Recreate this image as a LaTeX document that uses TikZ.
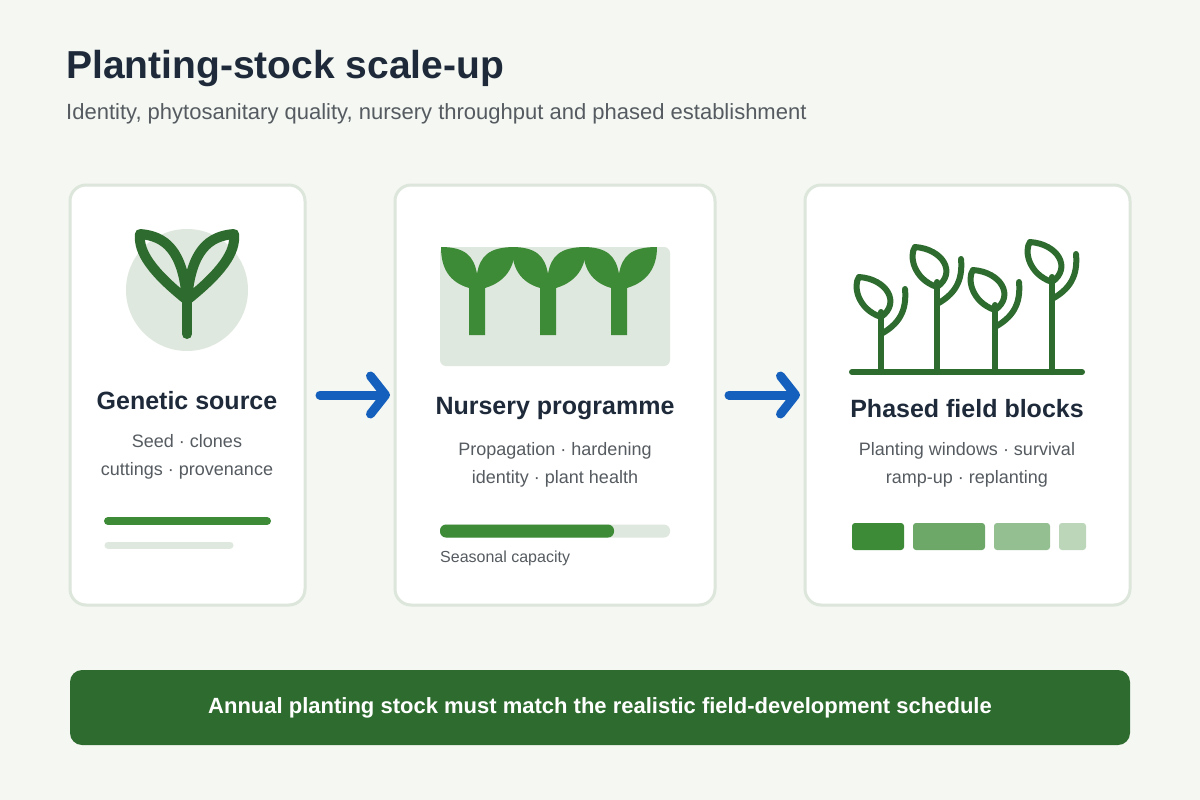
\documentclass[tikz,border=0pt]{standalone}
\usepackage{fontspec}
\setmainfont{Liberation Sans}
\usetikzlibrary{arrows.meta}
\definecolor{bgpage}{HTML}{F4F7F2}
\definecolor{cardline}{HTML}{DDE6DB}
\definecolor{darkgreen}{HTML}{2E6B2E}
\definecolor{leafgreen}{HTML}{3D8B37}
\definecolor{palegreen}{HTML}{DFE8DE}
\definecolor{inkblue}{HTML}{1E2A3A}
\definecolor{arrowblue}{HTML}{1560BD}
\definecolor{txtgrey}{HTML}{555B60}
\begin{document}
\begin{tikzpicture}[x=1pt,y=-1pt,
	card/.style={draw=cardline,line width=3pt,fill=white,rounded corners=16pt},
	head/.style={font=\fontsize{25}{30}\selectfont\bfseries,text=inkblue},
	sub/.style={font=\fontsize{18}{28}\selectfont,text=txtgrey,align=center},
	flow/.style={draw=arrowblue,line width=9pt,line cap=round,
		-{Straight Barb[length=15pt,width=38pt,line width=9pt,round]}},
	sprout/.style={draw=darkgreen,line width=6pt,line cap=round,line join=round}]
\def\plant#1#2{
	\draw[sprout] (#1,#2+40) .. controls (#1-24,#2+32) and (#1-28,#2+8) .. (#1-22,#2)
		.. controls (#1+6,#2+2) and (#1+20,#2+26) .. (#1,#2+40);
	\draw[sprout] (#1,#2+57) .. controls (#1+18,#2+47) and (#1+26,#2+34) .. (#1+24,#2+12);
	\draw[sprout] (#1,#2+35) -- (#1,372);
}
\def\twig#1{
	\fill[leafgreen] (#1-8,335) -- (#1-8,288) .. controls (#1-28,282) and (#1-36,268) .. (#1-36,247)
		.. controls (#1-12,247) and (#1-3,256) .. (#1,274)
		.. controls (#1+3,256) and (#1+12,247) .. (#1+38,247)
		.. controls (#1+38,268) and (#1+28,282) .. (#1+8,288) -- (#1+8,335) -- cycle;
}
\useasboundingbox (0,0) rectangle (1200,800);
\fill[bgpage] (0,0) rectangle (1200,800);

\node[anchor=base west,inner sep=0,font=\fontsize{39}{44}\selectfont\bfseries,text=inkblue]
	(title) at (66,79) {Planting-stock scale-up};
\node[anchor=base west,inner sep=0,font=\fontsize{22}{26}\selectfont,text=txtgrey]
	(subtitle) at (66,119) {Identity, phytosanitary quality, nursery throughput and phased establishment};

% cards
\draw[card] (70,185) rectangle (305,605);
\draw[card] (395,185) rectangle (715,605);
\draw[card] (805,185) rectangle (1130,605);

% genetic source
\fill[palegreen] (187,290) circle[radius=61];
\draw[sprout,line width=10pt] (187,300) .. controls (152,272) and (138,252) .. (140,234)
	.. controls (165,236) and (183,250) .. (187,300);
\draw[sprout,line width=10pt] (187,300) .. controls (222,272) and (236,252) .. (234,234)
	.. controls (209,236) and (191,250) .. (187,300);
\draw[sprout,line width=10pt] (187,300) -- (187,334);
\node[head] (gen) at (187,401) {Genetic source};
\node[sub] (gentxt) at (187,457) {Seed · clones\\cuttings · provenance};
\draw[leafgreen,line width=8pt,line cap=round] (108,521) -- (267,521);
\draw[palegreen,line width=7pt,line cap=round] (108,545) -- (230,545);

% nursery
\fill[palegreen,rounded corners=6pt] (440,247) rectangle (670,366);
\foreach \c in {477,548,619}{\twig{\c}}
\node[head] (nur) at (555,409) {Nursery programme};
\node[sub] (nurtxt) at (555,465) {Propagation · hardening\\identity · plant health};
\fill[palegreen,rounded corners=6pt] (440,524.5) rectangle (670,537.5);
\fill[leafgreen,rounded corners=6pt] (440,524.5) rectangle (614,537.5);
\node[anchor=base west,inner sep=0,font=\fontsize{16}{18}\selectfont,text=txtgrey]
	(cap) at (440,562) {Seasonal capacity};

% field blocks
\foreach \x/\y in {881/277,937/247,995/270,1052/242}{\plant{\x}{\y}}
\draw[sprout] (852,372) -- (1082,372);
\node[head] (fld) at (967,409) {Phased field blocks};
\node[sub] (fldtxt) at (967,465) {Planting windows · survival\\ramp-up · replanting};
\fill[leafgreen,rounded corners=3pt] (852,523) rectangle (904,550);
\fill[leafgreen!75!white,rounded corners=3pt] (913,523) rectangle (985,550);
\fill[leafgreen!55!white,rounded corners=3pt] (994,523) rectangle (1050,550);
\fill[leafgreen!35!white,rounded corners=3pt] (1059,523) rectangle (1086,550);

% arrows
\coordinate (a1) at (320,395);
\coordinate (b1) at (390,395);
\coordinate (a2) at (729,395);
\coordinate (b2) at (800,395);
\draw[flow] (a1) -- (b1);
\draw[flow] (a2) -- (b2);

% banner
\fill[darkgreen,rounded corners=12pt] (70,670) rectangle (1130,745);
\node[font=\fontsize{22}{26}\selectfont\bfseries,text=white] (note) at (600,708)
	{Annual planting stock must match the realistic field-development schedule};
\end{tikzpicture}
\end{document}
